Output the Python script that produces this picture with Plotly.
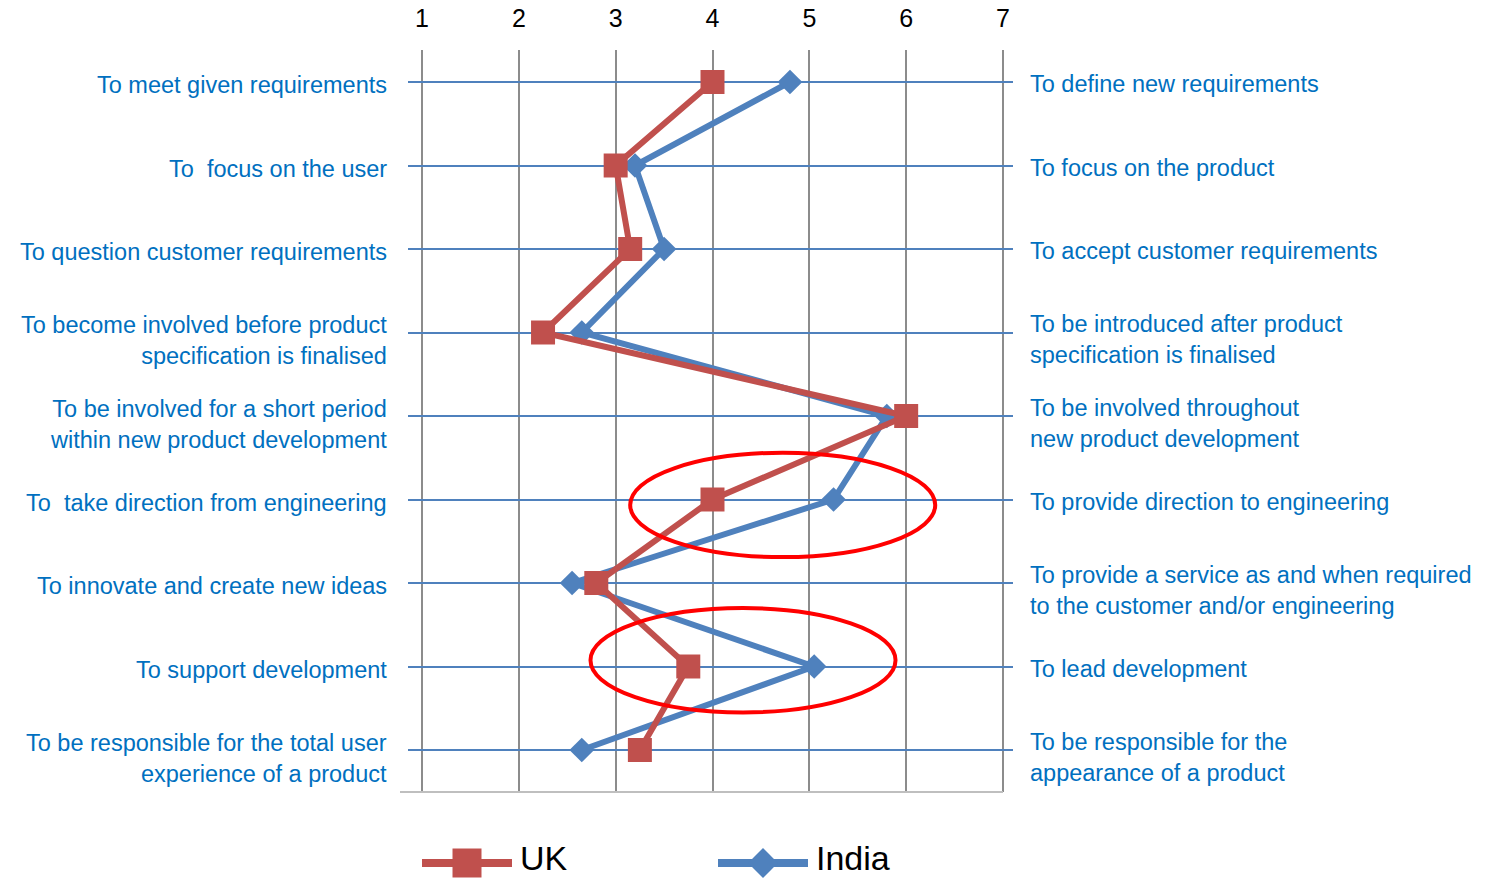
import plotly.graph_objects as go

# ---------------- data ----------------
left_labels = [
    "To meet given requirements",
    "To  focus on the user",
    "To question customer requirements",
    "To become involved before product<br>specification is finalised",
    "To be involved for a short period<br>within new product development",
    "To  take direction from engineering",
    "To innovate and create new ideas",
    "To support development",
    "To be responsible for the total user<br>experience of a product",
]
right_labels = [
    "To define new requirements",
    "To focus on the product",
    "To accept customer requirements",
    "To be introduced after product<br>specification is finalised",
    "To be involved throughout<br>new product development",
    "To provide direction to engineering",
    "To provide a service as and when required<br>to the customer and/or engineering",
    "To lead development",
    "To be responsible for the<br>appearance of a product",
]
uk_values = [4.0, 3.0, 3.15, 2.25, 6.0, 4.0, 2.8, 3.75, 3.25]
india_values = [4.8, 3.2, 3.5, 2.65, 5.8, 5.25, 2.55, 5.05, 2.65]
scale_ticks = [1, 2, 3, 4, 5, 6, 7]
rows = list(range(1, len(left_labels) + 1))

# ---------------- style ----------------
W, H = 1500, 882
UK_COLOR = "#C0504D"
INDIA_COLOR = "#4F81BD"
LABEL_COLOR = "#0070C0"
GRID_GRAY = "#8C8C8C"
FONT = "Liberation Sans, Arial, sans-serif"
LABEL_SIZE = 23.5

# pixel geometry of the plotting area
px_left, px_right = 408, 1013
px_top, px_bottom = 50, 792
x_unit = (1003 - 422) / 6.0
y_unit = (750 - 82) / 8.0
x_range = [1 - (422 - px_left) / x_unit, 7 + (px_right - 1003) / x_unit]
y_range = [9 + (px_bottom - 750) / y_unit, 1 - (82 - px_top) / y_unit]

fig = go.Figure()

fig.add_trace(go.Scatter(
    x=india_values, y=rows, name="India", mode="lines+markers",
    line=dict(color=INDIA_COLOR, width=6),
    marker=dict(symbol="diamond", size=19, color=INDIA_COLOR),
    showlegend=False,
))
fig.add_trace(go.Scatter(
    x=uk_values, y=rows, name="UK", mode="lines+markers",
    line=dict(color=UK_COLOR, width=6),
    marker=dict(symbol="square", size=24, color=UK_COLOR),
    showlegend=False,
))

# custom legend keys drawn on a full-page overlay axis
legend_items = [("UK", UK_COLOR, "square", 29, 422, 512),
                ("India", INDIA_COLOR, "diamond", 23, 718, 808)]
legend_y = 863
annotations = []
for name, col, sym, sz, x0, x1 in legend_items:
    fig.add_trace(go.Scatter(
        x=[x0, (x0 + x1) / 2, x1], y=[legend_y] * 3, mode="lines",
        line=dict(color=col, width=8), xaxis="x2", yaxis="y2",
        showlegend=False, hoverinfo="skip"))
    fig.add_trace(go.Scatter(
        x=[(x0 + x1) / 2], y=[legend_y], mode="markers",
        marker=dict(symbol=sym, size=sz, color=col), xaxis="x2", yaxis="y2",
        showlegend=False, hoverinfo="skip"))
    annotations.append(dict(
        x=x1 + 6, y=legend_y - 5, xref="x2", yref="y2", text=name,
        showarrow=False, xanchor="left", yanchor="middle",
        font=dict(family=FONT, size=34, color="black")))

for r, lab, rlab in zip(rows, left_labels, right_labels):
    shift = -8 if "<br>" in lab else -3
    annotations.append(dict(
        x=389 / W, xref="paper", y=r, yref="y", text=lab, showarrow=False,
        xanchor="right", yanchor="middle", align="right", yshift=shift,
        font=dict(family=FONT, size=LABEL_SIZE, color=LABEL_COLOR)))
    shift_r = -7 if "<br>" in rlab else -2
    annotations.append(dict(
        x=1028 / W, xref="paper", y=r, yref="y", text=rlab, showarrow=False,
        xanchor="left", yanchor="middle", align="left", yshift=shift_r,
        font=dict(family=FONT, size=LABEL_SIZE, color=LABEL_COLOR)))

shapes = [
    # bottom axis line
    dict(type="line", xref="paper", yref="paper",
         x0=400 / W, x1=1003 / W, y0=1 - px_bottom / H, y1=1 - px_bottom / H,
         line=dict(color="#BFBFBF", width=2)),
]
# highlight ellipses (in data units)
ellipses = [(3.15, 6.30, 5.44, 6.69), (2.74, 5.89, 7.30, 8.55)]
for ex0, ex1, ey0, ey1 in ellipses:
    shapes.append(dict(type="circle", xref="x", yref="y",
                       x0=ex0, x1=ex1, y0=ey0, y1=ey1,
                       line=dict(color="#FF0000", width=4), layer="above"))

fig.update_layout(
    width=W, height=H,
    margin=dict(l=0, r=0, t=0, b=0),
    paper_bgcolor="white", plot_bgcolor="rgba(0,0,0,0)",
    xaxis=dict(domain=[px_left / W, px_right / W], range=x_range,
               side="top", tickvals=scale_ticks, ticktext=[str(t) for t in scale_ticks],
               showgrid=True, gridcolor=GRID_GRAY, gridwidth=2,
               zeroline=False, showline=False, ticks="",
               tickfont=dict(family=FONT, size=25, color="black"),
               ticklabelstandoff=17, automargin=False, fixedrange=True),
    yaxis=dict(domain=[1 - px_bottom / H, 1 - px_top / H], range=y_range,
               tickvals=rows, showticklabels=False,
               showgrid=True, gridcolor=INDIA_COLOR, gridwidth=2,
               zeroline=False, showline=False, ticks="",
               automargin=False, fixedrange=True),
    xaxis2=dict(domain=[0, 1], range=[0, W], anchor="y2", visible=False,
                fixedrange=True),
    yaxis2=dict(domain=[0, 1], range=[H, 0], anchor="x2", visible=False,
                fixedrange=True),
    annotations=annotations,
    shapes=shapes,
    showlegend=False,
)

fig.write_html("out.html")
